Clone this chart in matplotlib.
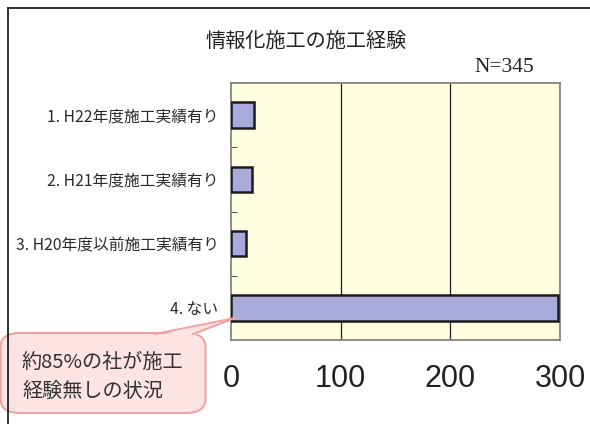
import matplotlib
matplotlib.use("Agg")
import matplotlib.pyplot as plt
from matplotlib.patches import FancyBboxPatch, Polygon
from matplotlib.lines import Line2D

plt.rcParams['font.family'] = ['Noto Sans CJK JP', 'DejaVu Sans']

categories = ["1. H22年度施工実績有り", "2. H21年度施工実績有り",
              "3. H20年度以前施工実績有り", "4. ない"]
values = [21, 19, 14, 298]
xticks = [0, 100, 200, 300]
title = "情報化施工の施工経験"
n_label = "N=345"
callout = "約85%の社が施工\n経験無しの状況"

W, H = 590, 424
fig = plt.figure(figsize=(W / 100, H / 100), dpi=100)
fig.patch.set_facecolor("white")

def fx(x):
    return x / W

def fy(y):
    return 1 - y / H

# outer frame (left & top only visible)
fig.add_artist(Line2D([fx(8), fx(8)], [fy(8), fy(430)], transform=fig.transFigure,
                      color="#222222", lw=1.3))
fig.add_artist(Line2D([fx(8), fx(600)], [fy(8), fy(8)], transform=fig.transFigure,
                      color="#222222", lw=1.3))

left, right, top, bottom = 231, 560, 83, 340
ax = fig.add_axes([fx(left), fy(bottom), fx(right - left), (bottom - top) / H])
ax.set_facecolor("#FEFDE0")

ypos = list(range(len(categories)))
ax.barh(ypos, values, height=0.4, color="#A9ACDA", edgecolor="#1a1a1a", linewidth=1.8, zorder=3)
ax.set_xlim(0, 300)
ax.set_ylim(len(categories) - 0.5, -0.5)
ax.set_yticks(ypos)
ax.set_yticklabels(categories, fontsize=11.3, color="#2a2a2a")
ax.set_yticks([0.5, 1.5, 2.5], minor=True)
ax.tick_params(axis="y", which="major", length=0, pad=9)
ax.tick_params(axis="y", which="minor", length=4, direction="in", color="#333333")
ax.set_xticks(xticks)
ax.set_xticklabels([str(t) for t in xticks],
                   fontdict={"family": ["Liberation Sans Narrow", "Liberation Sans"], "size": 22},
                   color="#222222")
ax.tick_params(axis="x", length=0, pad=17)
for xv in [100, 200]:
    ax.axvline(xv, color="#222222", lw=0.9, zorder=1)
for s in ax.spines.values():
    s.set_color("#7a7a7a")
    s.set_linewidth(1.2)

fig.text(fx(306), fy(41), title, ha="center", va="center", fontsize=14.5, color="#222222")
fig.text(fx(504), fy(68), n_label, ha="center", va="center", fontsize=15.5,
         family=["Liberation Serif"], color="#222222")

# callout bubble
bx0, bx1, by0, by1 = 6, 200, 333, 413
r = 14
box = FancyBboxPatch((fx(bx0 + r), fy(by1 - r)), fx(bx1 - bx0 - 2 * r), (by1 - by0 - 2 * r) / H,
                     boxstyle="round,pad=%f,rounding_size=%f" % (r / H, r / H),
                     transform=fig.transFigure, facecolor="#FDE4E4", edgecolor="#F2A09C",
                     lw=1.4, mutation_aspect=1)
fig.add_artist(box)
tip = (235, 318)
base_l, base_r = (155, 334), (193, 334)
poly = Polygon([(fx(base_l[0]), fy(base_l[1] + 2)), (fx(tip[0]), fy(tip[1])),
                (fx(base_r[0]), fy(base_r[1] + 2))], closed=True,
               transform=fig.transFigure, facecolor="#FDE4E4", edgecolor="none", zorder=5)
fig.add_artist(poly)
for b in (base_l, base_r):
    fig.add_artist(Line2D([fx(b[0]), fx(tip[0])], [fy(b[1]), fy(tip[1])],
                          transform=fig.transFigure, color="#F2A09C", lw=1.4, zorder=6))
fig.text(fx(22), fy(377), callout, ha="left", va="center", fontsize=14.5,
         color="#333333", linespacing=1.45, zorder=7)

fig.savefig("out.png", dpi=100, facecolor="white")
